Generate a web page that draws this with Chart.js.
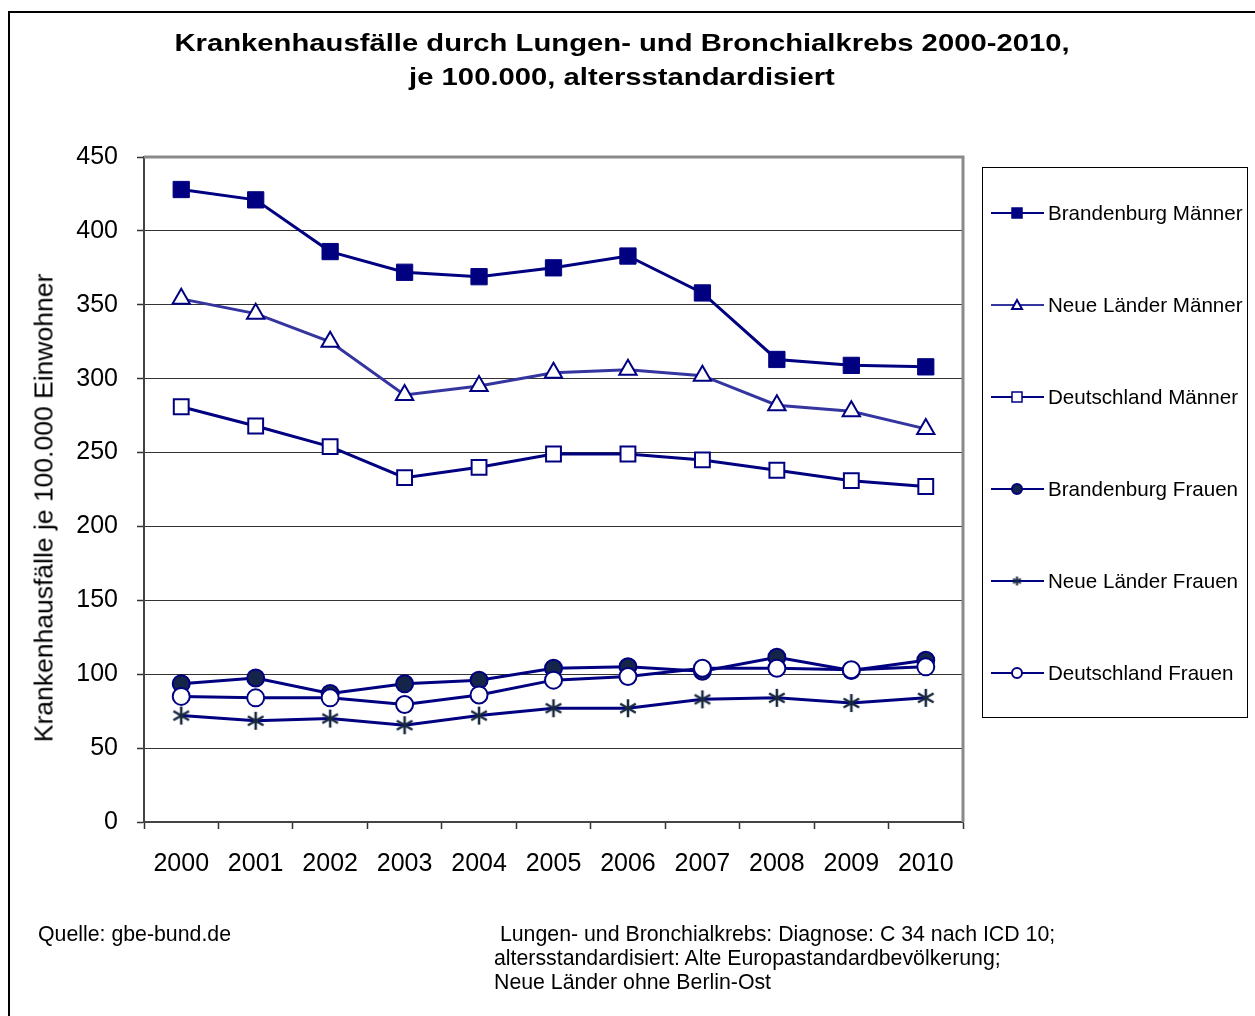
<!DOCTYPE html>
<html>
<head>
<meta charset="utf-8">
<script src="https://cdn.jsdelivr.net/npm/chart.js@4/dist/chart.umd.min.js"></script>
<style>
  html, body { margin:0; padding:0; background:#fff; }
  body { width:1255px; height:1016px; position:relative; overflow:hidden; font-family:"Liberation Sans", Arial, sans-serif; color:#000; }
  #frame { position:absolute; left:8px; top:11px; width:1300px; height:1100px; border-left:2px solid #000; border-top:2px solid #000; }
  #c { position:absolute; left:0; top:0; }
  #title { position:absolute; left:122px; width:1000px; top:26px; text-align:center; font-weight:bold; font-size:24px; line-height:34px; transform:scaleX(1.218); transform-origin:500px 0; }
  #ytitle { position:absolute; left:44px; top:508px; transform:translate(-50%,-50%) rotate(-90deg); font-size:26.5px; white-space:nowrap; }
  #legend { position:absolute; left:982px; top:167px; width:266px; height:551px; border:1px solid #000; box-sizing:border-box; }
  .li { position:absolute; left:8px; height:24px; display:flex; align-items:center; font-size:20.6px; white-space:nowrap; }
  .li canvas { margin-right:1px; }
  .foot { position:absolute; font-size:21.3px; line-height:24px; white-space:pre; }
</style>
</head>
<body>
<div id="frame"></div>
<canvas id="c" width="1255" height="1016"></canvas>
<div id="title">Krankenhausfälle durch Lungen- und Bronchialkrebs 2000-2010,<br>je 100.000, altersstandardisiert</div>
<div id="ytitle">Krankenhausfälle je 100.000 Einwohner</div>
<div id="legend"></div>
<div class="foot" style="left:38px; top:922px;">Quelle: gbe-bund.de</div>
<div class="foot" style="left:494px; top:922px;"> Lungen- und Bronchialkrebs: Diagnose: C 34 nach ICD 10;
altersstandardisiert: Alte Europastandardbevölkerung;
Neue Länder ohne Berlin-Ost</div>
<script>
// ---- data ----
const years = ['2000','2001','2002','2003','2004','2005','2006','2007','2008','2009','2010'];
const brandenburgMaenner = [428, 421, 386, 372, 369, 375, 383, 358, 313, 309, 308];
const neueLaenderMaenner = [354, 344, 325, 289, 295, 304, 306, 302, 282, 278, 266];
const deutschlandMaenner = [281, 268, 254, 233, 240, 249, 249, 245, 238, 231, 227];
const brandenburgFrauen  = [93.5, 97.5, 87, 93.5, 96, 104, 105, 102, 111.5, 102.5, 109.5];
const neueLaenderFrauen  = [72, 68.5, 70, 65.5, 72, 77, 77, 83, 84, 80.5, 84];
const deutschlandFrauen  = [85, 84, 84, 79.5, 86, 96, 98.5, 104, 104, 103, 105];
const seriesNames = ['Brandenburg Männer','Neue Länder Männer','Deutschland Männer','Brandenburg Frauen','Neue Länder Frauen','Deutschland Frauen'];
const yTicks = [0, 50, 100, 150, 200, 250, 300, 350, 400, 450];

const NAVY = '#000080';
const FONT = '"Liberation Sans", Arial, sans-serif';

function asterisk(size, lw) {
  const c = document.createElement('canvas');
  c.width = size; c.height = size;
  const g = c.getContext('2d');
  g.strokeStyle = '#17273f'; g.lineWidth = lw; g.lineCap = 'butt';
  const m = size / 2, r = size / 2 - 1;
  g.beginPath();
  g.moveTo(m, m - r); g.lineTo(m, m + r);
  const dx = r * Math.sin(Math.PI / 3), dy = r * Math.cos(Math.PI / 3);
  g.moveTo(m - dx, m - dy); g.lineTo(m + dx, m + dy);
  g.moveTo(m + dx, m - dy); g.lineTo(m - dx, m + dy);
  g.stroke();
  return c;
}
const starImg = asterisk(20, 2.5);

const datasets = [
  { label: seriesNames[0], data: brandenburgMaenner, borderColor: NAVY, borderWidth: 3,
    pointStyle: 'rect', pointRadius: 11.5, pointBackgroundColor: NAVY, pointBorderColor: NAVY, pointBorderWidth: 1, order: 6 },
  { label: seriesNames[1], data: neueLaenderMaenner, borderColor: '#3535a0', borderWidth: 3,
    pointStyle: 'triangle', pointRadius: 10, pointBackgroundColor: '#fff', pointBorderColor: NAVY, pointBorderWidth: 2, order: 5 },
  { label: seriesNames[2], data: deutschlandMaenner, borderColor: NAVY, borderWidth: 3,
    pointStyle: 'rect', pointRadius: 10.5, pointBackgroundColor: '#fff', pointBorderColor: NAVY, pointBorderWidth: 2, order: 4 },
  { label: seriesNames[3], data: brandenburgFrauen, borderColor: NAVY, borderWidth: 3,
    pointStyle: 'circle', pointRadius: 8.5, pointBackgroundColor: '#15254a', pointBorderColor: NAVY, pointBorderWidth: 2, order: 3 },
  { label: seriesNames[4], data: neueLaenderFrauen, borderColor: NAVY, borderWidth: 3,
    pointStyle: starImg, pointRadius: 10, order: 2 },
  { label: seriesNames[5], data: deutschlandFrauen, borderColor: NAVY, borderWidth: 3,
    pointStyle: 'circle', pointRadius: 8.5, pointBackgroundColor: '#fff', pointBorderColor: NAVY, pointBorderWidth: 2, order: 1 }
];
datasets.forEach(d => { d.fill = false; d.tension = 0; d.pointHoverRadius = d.pointRadius; });

const frameBorder = {
  id: 'frameBorder',
  beforeDatasetsDraw(chart) {
    const { ctx, chartArea: a } = chart;
    ctx.save();
    ctx.strokeStyle = '#8a8a8a'; ctx.lineWidth = 3;
    ctx.beginPath();
    ctx.moveTo(a.left, a.top); ctx.lineTo(a.right, a.top); ctx.lineTo(a.right, a.bottom);
    ctx.stroke();
    ctx.restore();
  }
};

new Chart(document.getElementById('c'), {
  type: 'line',
  data: { labels: years, datasets },
  options: {
    responsive: false, animation: false, devicePixelRatio: 1,
    layout: { padding: { left: 0, top: 157, right: 1255 - 963, bottom: 1016 - 822 - 70 } },
    plugins: { legend: { display: false }, tooltip: { enabled: false }, title: { display: false } },
    scales: {
      x: {
        type: 'category', offset: true,
        grid: { offset: true, drawOnChartArea: false, drawTicks: true, tickLength: 7, tickColor: '#333', tickWidth: 1.5 },
        border: { display: true, color: '#444', width: 2 },
        ticks: { font: { family: FONT, size: 25 }, color: '#000', padding: 20, maxRotation: 0, autoSkip: false },
        afterFit(s) { s.height = 70; }
      },
      y: {
        min: 0, max: 450,
        afterBuildTicks(s) { s.ticks = yTicks.map(v => ({ value: v })); },
        grid: {
          color: c => (c.tick && (c.tick.value === 0 || c.tick.value === 450)) ? 'rgba(0,0,0,0)' : '#333',
          borderDash: [1, 1], lineWidth: 1, tickLength: 7, tickColor: '#333', tickBorderDash: [], tickWidth: 1.5
        },
        border: { display: true, color: '#444', width: 2 },
        ticks: { font: { family: FONT, size: 25 }, color: '#000', padding: 19 },
        afterFit(s) { s.width = 144; }
      }
    }
  },
  plugins: [frameBorder]
});

// ---- legend (HTML) ----
const legend = document.getElementById('legend');
const legendY = [45, 137, 229, 321, 413, 505];
datasets.forEach((d, i) => {
  const item = document.createElement('div');
  item.className = 'li';
  item.style.top = (legendY[i] - 12) + 'px';
  const cv = document.createElement('canvas');
  cv.width = 56; cv.height = 20;
  const g = cv.getContext('2d');
  g.strokeStyle = d.borderColor; g.lineWidth = 2;
  g.beginPath(); g.moveTo(0, 10); g.lineTo(53, 10); g.stroke();
  const cx = 26, cy = 10;
  g.lineWidth = 1.5;
  if (d.pointStyle === 'rect') {
    g.fillStyle = d.pointBackgroundColor; g.strokeStyle = d.pointBorderColor;
    g.fillRect(cx - 5, cy - 5, 10, 10); g.strokeRect(cx - 5, cy - 5, 10, 10);
  } else if (d.pointStyle === 'triangle') {
    g.fillStyle = '#fff'; g.strokeStyle = NAVY; g.lineWidth = 2;
    g.beginPath(); g.moveTo(cx, cy - 5); g.lineTo(cx + 5, cy + 4); g.lineTo(cx - 5, cy + 4); g.closePath(); g.fill(); g.stroke();
  } else if (d.pointStyle === 'circle') {
    g.fillStyle = d.pointBackgroundColor; g.strokeStyle = NAVY; g.lineWidth = 2;
    g.beginPath(); g.arc(cx, cy, 5, 0, Math.PI * 2); g.fill(); g.stroke();
  } else {
    g.drawImage(asterisk(11, 2), cx - 5.5, cy - 5.5);
  }
  item.appendChild(cv);
  const t = document.createElement('span');
  t.textContent = d.label;
  item.appendChild(t);
  legend.appendChild(item);
});
</script>
</body>
</html>
